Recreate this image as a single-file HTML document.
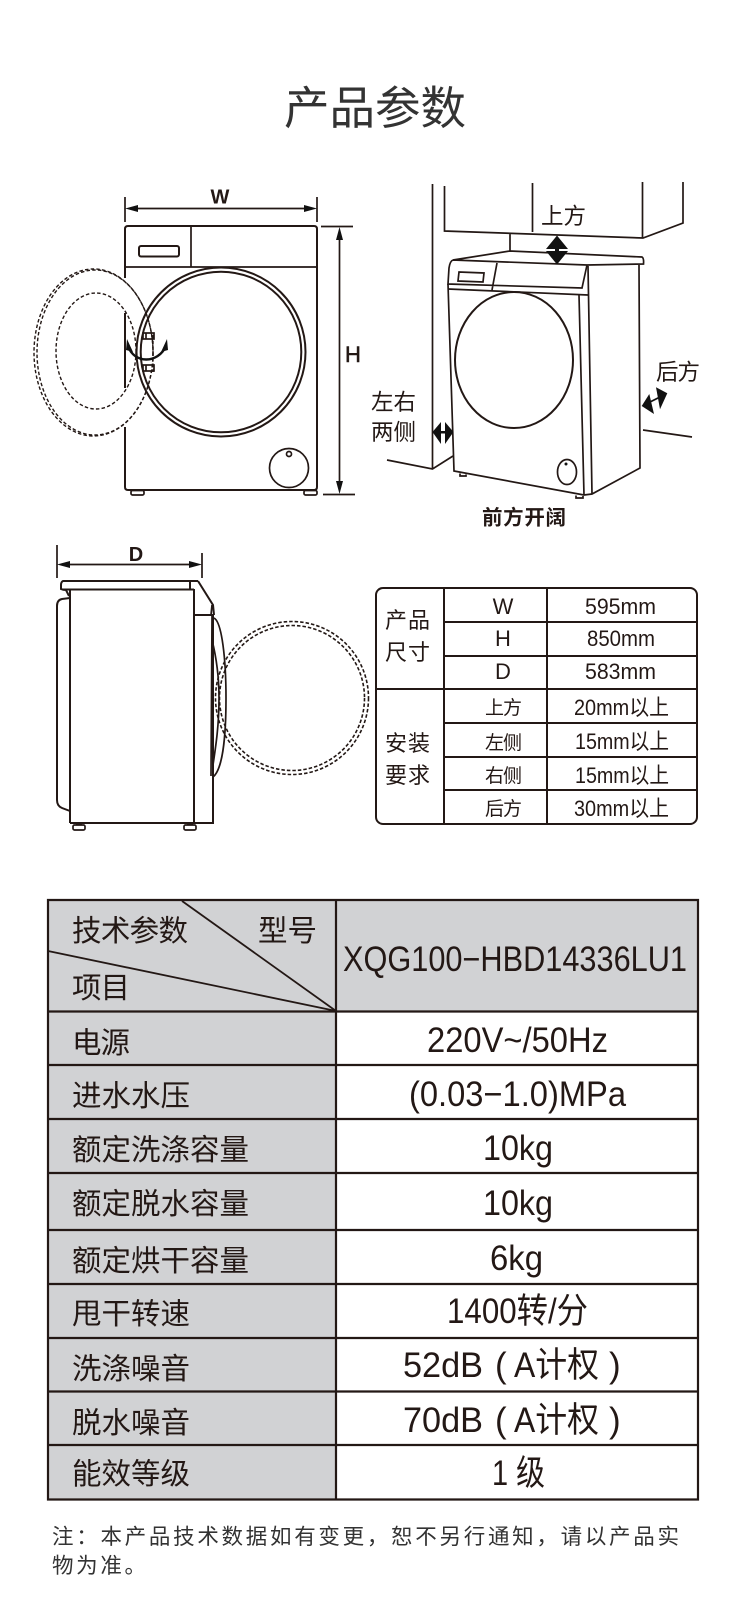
<!DOCTYPE html>
<html><head><meta charset="utf-8">
<style>
html,body{margin:0;padding:0;background:#fff}
svg{display:block}
text{font-family:"Liberation Sans","Noto Sans CJK SC",sans-serif;fill:#231815}
.cj{font-size:29.5px}
.v{font-size:35px}
.s{font-size:22px}
.m{font-size:19px}
.l{fill:none;stroke:#231815;stroke-width:1.7}
.t{fill:none;stroke:#231815;stroke-width:2}
.d{fill:none;stroke:#231815;stroke-width:1.4;stroke-dasharray:3.5 2.2}
.a{fill:#111;stroke:none}
</style></head><body>
<svg width="750" height="1600" viewBox="0 0 750 1600" xmlns="http://www.w3.org/2000/svg">
<rect width="750" height="1600" fill="#fff"/>
<text x="284" y="124" font-size="45.500" style="fill:#333" textLength="182">产品参数</text>

<!-- front view -->
<g>
<path class="t" d="M125 278V229q0-3 3-3H314q3 0 3 3V487q0 3-3 3H128q-3 0-3-3V427M125 388V313"/>
<path class="l" d="M125 267H317M191 226V267"/>
<rect x="139" y="246" width="40" height="10.500" rx="2" class="t"/>
<circle cx="221" cy="352" r="84.500" class="t"/>
<circle cx="221" cy="352" r="80.300" class="t"/>
<circle cx="289" cy="468" r="19.500" class="l"/>
<circle cx="289" cy="454" r="2.500" class="l"/>
<rect x="131" y="490.500" width="13" height="4.500" rx="1.500" class="l"/>
<rect x="304" y="490.500" width="13" height="4.500" rx="1.500" class="l"/>
<ellipse cx="93.500" cy="352.500" rx="59.500" ry="83.500" class="d"/>
<ellipse cx="95" cy="352.500" rx="58" ry="82.500" class="d"/>
<ellipse cx="96" cy="351" rx="40" ry="58" class="d"/>
<path class="d" d="M153 335V372"/>
<rect x="143" y="333" width="11" height="6" class="l" fill="#fff"/>
<rect x="143" y="365" width="11" height="6" class="l" fill="#fff"/>
<path class="l" d="M146 333V339M146 365V371"/>
<path fill="none" stroke="#111" stroke-width="2.400" d="M128 346C134 364 158 364 166 346"/>
<polygon class="a" points="127,339 133,352 126,350"/>
<polygon class="a" points="167,339 168,350 161,352"/>
<!-- W -->
<path class="l" d="M125 197V222M317 197V222M132 208.500H310"/>
<polygon class="a" points="125,208.500 138,205 138,212"/>
<polygon class="a" points="317,208.500 304,205 304,212"/>
<text x="220" y="203.500" font-size="20" font-weight="bold" text-anchor="middle">W</text>
<!-- H -->
<path class="l" d="M321 226.500H353M323 494.500H355M339.500 232V490"/>
<polygon class="a" points="339.500,227 336,240 343,240"/>
<polygon class="a" points="339.500,494 336,481 343,481"/>
<text x="345" y="362" font-size="22" stroke="#231815" stroke-width="0.500">H</text>
</g>

<!-- perspective view -->
<g>
<path class="l" d="M432.500 184V469M387 460L432.500 469L453 456"/>
<path class="l" d="M444.500 186V231L643 238L683 223V182M532.500 183V232M642.500 182V238M510 233V251"/>
<path class="l" d="M453 260L510 251L642 257Q644 258 643.500 264L587 265L453 260M587 265L582 288L448 284L449 268Q450 261 453 260M497 263L492 290M448 289L588 295"/>
<polygon class="l" points="459,272 484,273 483,282 458,281"/>
<path class="l" d="M448 284L454 471L584 495L592 494L640 468L639 265M579 295L584 495M588 266L592 494"/>
<ellipse cx="514" cy="360" rx="59" ry="68" class="t" fill="none"/>
<ellipse cx="567" cy="472" rx="9.500" ry="12.500" class="l"/>
<circle cx="566" cy="464" r="1.500" class="a"/>
<path class="l" d="M460 473.500V476H466V474.500M576 495.500V498H583V496"/>
<path class="l" d="M643 430L692 437"/>
<!-- arrows -->
<rect x="555" y="240" width="4" height="20" class="a"/>
<polygon class="a" points="557,235.500 568,249 546,249"/>
<polygon class="a" points="557,264.500 568,251 546,251"/>
<rect x="437" y="431" width="12" height="2.500" class="a"/>
<polygon class="a" points="432.500,432 441,422 441,444"/>
<polygon class="a" points="453.500,432 445,422 445,444"/>
<path d="M648 403L662 396" stroke="#111" stroke-width="1.800"/>
<polygon class="a" points="641.700,406 649.300,394 654,414"/>
<polygon class="a" points="667.300,393.300 656,387.300 660,409.300"/>
<text x="541" y="224" font-size="22.500" textLength="45">上方</text>
<text x="656" y="380" font-size="22.500" textLength="44">后方</text>
<text x="371" y="410" font-size="22.500" textLength="45">左右</text>
<text x="371" y="440" font-size="22.500" textLength="45">两侧</text>
<text x="482" y="524.500" font-size="20.500" font-weight="bold" textLength="84">前方开阔</text>
</g>

<!-- side view -->
<g>
<path class="l" d="M57 545V578M202 553V578M64 564.500H196"/>
<polygon class="a" points="57,564.500 70,561 70,568"/>
<polygon class="a" points="202,564.500 189,561 189,568"/>
<text x="136" y="561" font-size="20" font-weight="bold" text-anchor="middle">D</text>
<path class="t" d="M198 581H63Q61 582 61 585L61 589Q63 590 66 590L69 596M62 589.500H194M70 589V823M194 589V823"/>
<path class="t" d="M190 581V589M198 581L213 605L214 615M194 615H213V823H70"/>
<path class="l" d="M212 605L211 615M212 616L211 776"/>
<path class="t" d="M70 598L62 599Q57 600 57 606V800Q57 806 62 808L70 811"/>
<path class="l" d="M214 618C222 622 226 660 226 698C226 740 222 770 213 777"/>
<path class="l" d="M212 640C217 660 219 680 219 698C219 725 216 745 213 765"/>
<circle cx="292" cy="698" r="76.500" fill="none" stroke="#231815" stroke-width="1.600" stroke-dasharray="3.500 2"/>
<circle cx="292" cy="698" r="72.500" fill="none" stroke="#231815" stroke-width="1.600" stroke-dasharray="3.500 2"/>
<rect x="73" y="825" width="12" height="5" rx="1.500" class="l"/>
<rect x="184" y="825" width="12" height="5" rx="1.500" class="l"/>
<path d="M76 824H82M187 824H193" stroke="#231815" stroke-width="2"/>
</g>

<!-- small table -->
<g>
<rect x="376" y="588" width="321" height="236" rx="7" class="t"/>
<path class="t" d="M444 588V824M547 588V824M444 622H697M444 656H697M376 689H697M444 723H697M444 757H697M444 790H697"/>
<text x="385" y="628" class="s" textLength="45">产品</text>
<text x="385" y="660" class="s" textLength="45">尺寸</text>
<text x="385" y="751" class="s" textLength="45">安装</text>
<text x="385" y="783" class="s" textLength="45">要求</text>
<g style="fill:#333">
<text x="503" y="614" class="s" text-anchor="middle">W</text>
<text x="503" y="646" class="s" text-anchor="middle">H</text>
<text x="503" y="679" class="s" text-anchor="middle">D</text>
<text x="585" y="614" class="s" textLength="71" lengthAdjust="spacingAndGlyphs">595mm</text>
<text x="587" y="646" class="s" textLength="68" lengthAdjust="spacingAndGlyphs">850mm</text>
<text x="585" y="679" class="s" textLength="71" lengthAdjust="spacingAndGlyphs">583mm</text>
<text x="485" y="714" class="m" textLength="37">上方</text>
<text x="485" y="749" class="m" textLength="37">左侧</text>
<text x="485" y="782" class="m" textLength="37">右侧</text>
<text x="485" y="815" class="m" textLength="37">后方</text>
<text x="574" y="715" class="s" textLength="95" lengthAdjust="spacingAndGlyphs">20mm以上</text>
<text x="575" y="749" class="s" textLength="94" lengthAdjust="spacingAndGlyphs">15mm以上</text>
<text x="575" y="783" class="s" textLength="94" lengthAdjust="spacingAndGlyphs">15mm以上</text>
<text x="574" y="816" class="s" textLength="95" lengthAdjust="spacingAndGlyphs">30mm以上</text>
</g>
</g>

<!-- main table -->
<g>
<rect x="48" y="900" width="650" height="112" fill="#d1d2d4"/>
<rect x="48" y="1012" width="288" height="488" fill="#d1d2d4"/>
<path fill="none" stroke="#231815" stroke-width="2.200" d="M48 900H698V1499.500H48ZM336 900V1500M48 1011.500H698M48 1065H698M48 1119H698M48 1173H698M48 1230H698M48 1284H698M48 1338H698M48 1391.500H698M48 1445H698"/>
<path fill="none" stroke="#231815" stroke-width="1.800" d="M48 951L336 1011M182 901L336 1011"/>
<text x="72" y="941" class="cj" textLength="116">技术参数</text>
<text x="258" y="941" class="cj" textLength="59">型号</text>
<text x="72" y="998" class="cj" textLength="58">项目</text>
<text x="72" y="1053" class="cj" textLength="58">电源</text>
<text x="72" y="1106" class="cj" textLength="118">进水水压</text>
<text x="72" y="1160" class="cj" textLength="177">额定洗涤容量</text>
<text x="72" y="1214" class="cj" textLength="177">额定脱水容量</text>
<text x="72" y="1271" class="cj" textLength="177">额定烘干容量</text>
<text x="72" y="1324" class="cj" textLength="118">甩干转速</text>
<text x="72" y="1379" class="cj" textLength="118">洗涤噪音</text>
<text x="72" y="1433" class="cj" textLength="118">脱水噪音</text>
<text x="72" y="1484" class="cj" textLength="118">能效等级</text>
<text x="343" y="971" class="v" textLength="344" lengthAdjust="spacingAndGlyphs">XQG100−HBD14336LU1</text>
<text x="427" y="1052" class="v" textLength="181" lengthAdjust="spacingAndGlyphs">220V~/50Hz</text>
<text x="409" y="1106" class="v" textLength="217" lengthAdjust="spacingAndGlyphs">(0.03−1.0)MPa</text>
<text x="483" y="1160" class="v" textLength="70" lengthAdjust="spacingAndGlyphs">10kg</text>
<text x="483" y="1215" class="v" textLength="70" lengthAdjust="spacingAndGlyphs">10kg</text>
<text x="490" y="1270" class="v" textLength="53" lengthAdjust="spacingAndGlyphs">6kg</text>
<text x="447" y="1323" class="v" textLength="141" lengthAdjust="spacingAndGlyphs">1400转/分</text>
<text x="403" y="1377" class="v" textLength="80" lengthAdjust="spacingAndGlyphs">52dB</text>
<text x="495" y="1377" class="v">(</text>
<text x="514" y="1377" class="v" textLength="85" lengthAdjust="spacingAndGlyphs">A计权</text>
<text x="609" y="1377" class="v">)</text>
<text x="403" y="1432" class="v" textLength="80" lengthAdjust="spacingAndGlyphs">70dB</text>
<text x="495" y="1432" class="v">(</text>
<text x="514" y="1432" class="v" textLength="85" lengthAdjust="spacingAndGlyphs">A计权</text>
<text x="609" y="1432" class="v">)</text>
<text x="492" y="1485" class="v" textLength="53" lengthAdjust="spacingAndGlyphs">1 级</text>
</g>

<!-- note -->
<text x="52" y="1544" font-size="21.500" style="fill:#333" textLength="627">注：本产品技术数据如有变更，恕不另行通知，请以产品实</text>
<text x="52" y="1573" font-size="21.500" style="fill:#333" textLength="94">物为准。</text>
</svg>
</body></html>
